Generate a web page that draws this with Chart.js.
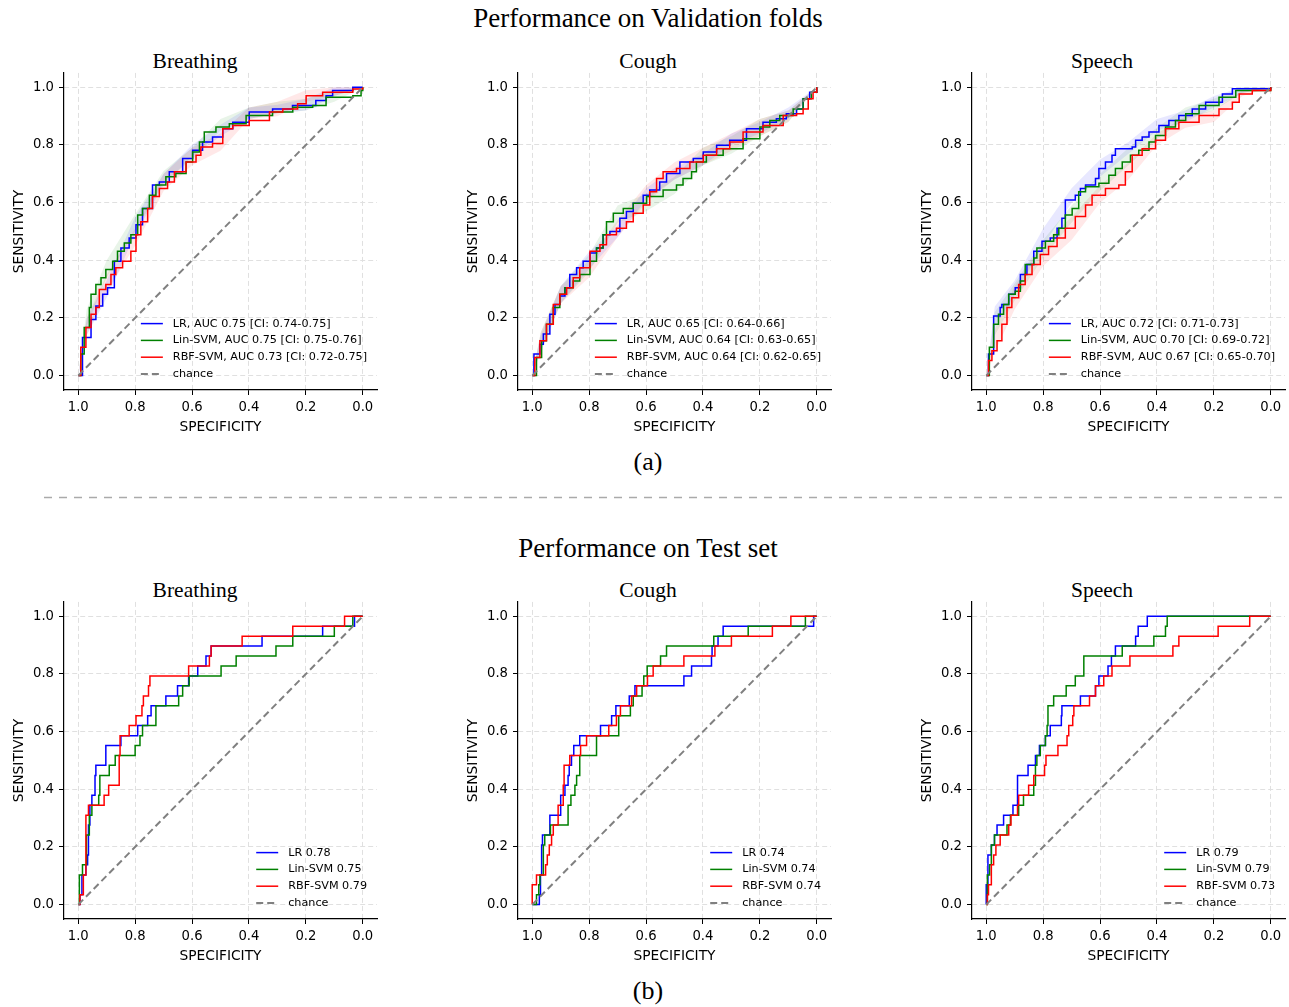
<!DOCTYPE html>
<html>
<head>
<meta charset="utf-8">
<script src="https://cdn.jsdelivr.net/npm/chart.js@4.4.1/dist/chart.umd.min.js"></script>
<style>
  body { margin: 0; background: #fff; width: 1289px; height: 1007px; position: relative; overflow: hidden; }
  .t { position: absolute; font-family: "Liberation Serif", "Times New Roman", serif; color: #000;
       white-space: nowrap; transform: translate(-50%, -50%); }
  canvas { position: absolute; }
  #sep { position: absolute; left: 0; top: 0; }
</style>
</head>
<body>

<div class="t" style="left:648px;top:18px;font-size:27px">Performance on Validation folds</div>
<div class="t" style="left:195px;top:61px;font-size:21.5px">Breathing</div>
<div class="t" style="left:648px;top:61px;font-size:21.5px">Cough</div>
<div class="t" style="left:1102px;top:61px;font-size:21.5px">Speech</div>
<div class="t" style="left:648px;top:462px;font-size:26px">(a)</div>

<svg id="sep" width="1289" height="1007"><line x1="44" y1="497.5" x2="1289" y2="497.5" stroke="#aaaaaa" stroke-width="1.3" stroke-dasharray="8 7"/></svg>

<div class="t" style="left:648px;top:548px;font-size:27px">Performance on Test set</div>
<div class="t" style="left:195px;top:590px;font-size:21.5px">Breathing</div>
<div class="t" style="left:648px;top:590px;font-size:21.5px">Cough</div>
<div class="t" style="left:1102px;top:590px;font-size:21.5px">Speech</div>
<div class="t" style="left:648px;top:991px;font-size:26px">(b)</div>

<canvas id="vBreath" width="381" height="380" style="left:0px;top:60px"></canvas>
<canvas id="vCough" width="381" height="380" style="left:454px;top:60px"></canvas>
<canvas id="vSpeech" width="381" height="380" style="left:908px;top:60px"></canvas>
<canvas id="tBreath" width="381" height="380" style="left:0px;top:589px"></canvas>
<canvas id="tCough" width="381" height="380" style="left:454px;top:589px"></canvas>
<canvas id="tSpeech" width="381" height="380" style="left:908px;top:589px"></canvas>

<script>
// ticks shared by both axes
const tickValues = [0, 0.2, 0.4, 0.6, 0.8, 1.0];

// chance diagonal
const chanceX = [1, 0];
const chanceY = [0, 1];

// validation folds: [specificity, sensitivity]
const valBreathLR = [[1,0],[0.985,0.132],[0.955,0.195],[0.938,0.241],[0.914,0.282],[0.897,0.305],[0.873,0.397],[0.850,0.443],[0.821,0.477],[0.797,0.523],[0.774,0.580],[0.739,0.661],[0.715,0.672],[0.680,0.707],[0.633,0.753],[0.598,0.782],[0.563,0.810],[0.528,0.828],[0.492,0.856],[0.457,0.879],[0.399,0.914],[0.317,0.925],[0.247,0.937],[0.165,0.954],[0.129,0.971],[0.106,0.989],[0.035,1.0],[0,1.0]];
const valBreathLin = [[1,0],[0.991,0.075],[0.979,0.167],[0.961,0.236],[0.955,0.282],[0.938,0.316],[0.920,0.339],[0.903,0.368],[0.879,0.397],[0.862,0.431],[0.838,0.460],[0.815,0.489],[0.791,0.557],[0.774,0.580],[0.750,0.626],[0.727,0.661],[0.692,0.690],[0.657,0.701],[0.621,0.741],[0.598,0.776],[0.574,0.810],[0.557,0.845],[0.516,0.862],[0.469,0.874],[0.410,0.902],[0.317,0.914],[0.246,0.931],[0.176,0.937],[0.129,0.966],[0.035,0.971],[0.006,0.989],[0,1.0]];
const valBreathRBF = [[1,0],[0.991,0.098],[0.973,0.167],[0.955,0.213],[0.938,0.236],[0.926,0.299],[0.903,0.316],[0.885,0.351],[0.868,0.374],[0.844,0.397],[0.815,0.431],[0.797,0.489],[0.780,0.534],[0.756,0.580],[0.739,0.621],[0.715,0.649],[0.686,0.672],[0.662,0.707],[0.621,0.741],[0.586,0.764],[0.569,0.793],[0.528,0.805],[0.492,0.856],[0.457,0.868],[0.399,0.885],[0.328,0.914],[0.281,0.925],[0.229,0.943],[0.199,0.971],[0.141,0.983],[0.035,0.994],[0,1.0]];

const valCoughLR = [[1,0],[0.994,0.075],[0.973,0.109],[0.961,0.144],[0.938,0.213],[0.920,0.247],[0.903,0.276],[0.885,0.305],[0.868,0.351],[0.844,0.374],[0.821,0.397],[0.797,0.425],[0.774,0.443],[0.751,0.489],[0.727,0.500],[0.692,0.546],[0.669,0.569],[0.645,0.598],[0.610,0.626],[0.587,0.644],[0.552,0.672],[0.528,0.701],[0.481,0.741],[0.434,0.753],[0.399,0.776],[0.352,0.799],[0.306,0.816],[0.247,0.856],[0.189,0.879],[0.142,0.891],[0.107,0.908],[0.071,0.925],[0.048,0.960],[0.025,0.983],[0,1.0]];
const valCoughLin = [[1,0],[0.985,0.063],[0.967,0.121],[0.950,0.178],[0.926,0.236],[0.903,0.282],[0.885,0.305],[0.856,0.328],[0.833,0.351],[0.797,0.397],[0.774,0.443],[0.751,0.489],[0.739,0.534],[0.715,0.563],[0.680,0.580],[0.645,0.598],[0.598,0.621],[0.540,0.644],[0.493,0.661],[0.470,0.684],[0.440,0.707],[0.423,0.741],[0.388,0.764],[0.329,0.787],[0.259,0.822],[0.200,0.862],[0.165,0.885],[0.130,0.902],[0.083,0.925],[0.048,0.960],[0.019,0.983],[0,1.0]];
const valCoughRBF = [[1,0],[0.991,0.063],[0.973,0.121],[0.950,0.178],[0.926,0.247],[0.903,0.282],[0.879,0.305],[0.856,0.339],[0.833,0.374],[0.797,0.431],[0.762,0.454],[0.739,0.489],[0.704,0.511],[0.669,0.534],[0.645,0.563],[0.610,0.592],[0.587,0.638],[0.563,0.684],[0.540,0.707],[0.493,0.718],[0.446,0.741],[0.399,0.764],[0.352,0.787],[0.306,0.810],[0.259,0.845],[0.189,0.868],[0.118,0.902],[0.071,0.908],[0.048,0.925],[0.030,0.960],[0.013,0.983],[0,1.0]];

const valSpeechLR = [[1,0],[0.992,0.075],[0.974,0.207],[0.951,0.236],[0.945,0.247],[0.921,0.282],[0.898,0.305],[0.880,0.351],[0.857,0.385],[0.833,0.431],[0.804,0.466],[0.775,0.477],[0.751,0.511],[0.734,0.546],[0.722,0.609],[0.687,0.626],[0.669,0.649],[0.651,0.661],[0.616,0.684],[0.604,0.718],[0.581,0.741],[0.558,0.764],[0.546,0.787],[0.487,0.793],[0.475,0.816],[0.452,0.828],[0.428,0.845],[0.393,0.868],[0.358,0.885],[0.323,0.902],[0.276,0.925],[0.229,0.948],[0.170,0.977],[0.135,0.995],[0,1.0]];
const valSpeechLin = [[1,0],[0.989,0.098],[0.974,0.178],[0.957,0.213],[0.939,0.247],[0.921,0.282],[0.898,0.293],[0.880,0.328],[0.863,0.385],[0.833,0.408],[0.822,0.443],[0.792,0.466],[0.763,0.489],[0.745,0.511],[0.722,0.557],[0.698,0.580],[0.675,0.638],[0.651,0.655],[0.604,0.667],[0.569,0.695],[0.546,0.718],[0.522,0.741],[0.493,0.764],[0.464,0.782],[0.428,0.810],[0.405,0.833],[0.370,0.862],[0.335,0.885],[0.299,0.908],[0.252,0.937],[0.182,0.966],[0.123,0.989],[0,1.0]];
const valSpeechRBF = [[1,0],[0.992,0.052],[0.980,0.086],[0.962,0.121],[0.945,0.178],[0.927,0.236],[0.910,0.270],[0.886,0.316],[0.863,0.351],[0.839,0.385],[0.810,0.420],[0.781,0.448],[0.751,0.477],[0.722,0.511],[0.687,0.552],[0.651,0.592],[0.628,0.626],[0.581,0.649],[0.534,0.661],[0.511,0.707],[0.487,0.764],[0.452,0.787],[0.405,0.816],[0.370,0.856],[0.323,0.879],[0.252,0.902],[0.182,0.925],[0.135,0.948],[0.111,0.977],[0.065,0.989],[0,1.0]];

// confidence bands of the validation curves, sampled at bandSpec
const bandSpec = [1, 0.97, 0.9, 0.8, 0.7, 0.6, 0.5, 0.4, 0.3, 0.2, 0.1, 0];
const valBreathLRLo  = [0,0.14,0.27,0.49,0.66,0.76,0.83,0.89,0.91,0.92,0.97,1];
const valBreathLRHi  = [0,0.20,0.33,0.55,0.70,0.80,0.87,0.93,0.94,0.96,1,1];
const valBreathLinLo = [0,0.17,0.34,0.50,0.67,0.75,0.85,0.89,0.91,0.92,0.95,1];
const valBreathLinHi = [0,0.23,0.40,0.56,0.71,0.79,0.89,0.93,0.95,0.96,0.99,1];
const valBreathRBFLo = [0,0.14,0.29,0.45,0.64,0.73,0.78,0.89,0.90,0.95,0.97,1];
const valBreathRBFHi = [0,0.20,0.35,0.51,0.70,0.79,0.84,0.93,0.95,0.99,1,1];
const valCoughLRLo   = [0,0.08,0.25,0.37,0.48,0.61,0.68,0.73,0.80,0.84,0.89,1];
const valCoughLRHi   = [0,0.14,0.31,0.43,0.52,0.65,0.72,0.77,0.84,0.88,0.93,1];
const valCoughLinLo  = [0,0.09,0.25,0.36,0.53,0.57,0.63,0.73,0.77,0.83,0.88,1];
const valCoughLinHi  = [0,0.15,0.31,0.42,0.59,0.63,0.69,0.79,0.83,0.89,0.92,1];
const valCoughRBFLo  = [0,0.09,0.25,0.34,0.48,0.60,0.68,0.73,0.78,0.83,0.88,1];
const valCoughRBFHi  = [0,0.15,0.31,0.40,0.54,0.66,0.74,0.79,0.84,0.89,0.92,1];
const valSpeechLRLo  = [0,0.17,0.28,0.45,0.60,0.69,0.77,0.85,0.88,0.93,0.98,1];
const valSpeechLRHi  = [0,0.24,0.33,0.51,0.65,0.75,0.81,0.89,0.92,0.97,1,1];
const valSpeechLinLo = [0,0.14,0.26,0.41,0.53,0.64,0.73,0.82,0.89,0.92,0.98,1];
const valSpeechLinHi = [0,0.22,0.32,0.47,0.59,0.70,0.79,0.86,0.93,0.96,1,1];
const valSpeechRBFLo = [0,0.08,0.23,0.38,0.47,0.60,0.68,0.80,0.86,0.88,0.97,1];
const valSpeechRBFHi = [0,0.16,0.31,0.46,0.55,0.66,0.74,0.84,0.90,0.92,0.99,1];

// test set: [specificity, sensitivity]
const testBreathLR = [[1,0],[0.994,0.034],[0.987,0.103],[0.973,0.138],[0.967,0.172],[0.964,0.276],[0.959,0.345],[0.952,0.379],[0.941,0.448],[0.938,0.483],[0.903,0.552],[0.850,0.586],[0.791,0.621],[0.756,0.655],[0.744,0.690],[0.692,0.724],[0.651,0.759],[0.612,0.793],[0.580,0.828],[0.551,0.862],[0.533,0.897],[0.354,0.931],[0.141,0.966],[0.029,1.0],[0,1.0]];
const testBreathLin = [[1,0],[0.996,0.103],[0.985,0.138],[0.971,0.241],[0.961,0.310],[0.952,0.345],[0.928,0.379],[0.924,0.448],[0.891,0.483],[0.870,0.517],[0.800,0.552],[0.783,0.586],[0.774,0.621],[0.727,0.690],[0.647,0.724],[0.633,0.759],[0.610,0.793],[0.498,0.828],[0.445,0.862],[0.305,0.897],[0.246,0.931],[0.100,0.966],[0.035,1.0],[0,1.0]];
const testBreathRBF = [[1,0],[0.994,0.034],[0.982,0.103],[0.973,0.310],[0.964,0.345],[0.909,0.379],[0.893,0.414],[0.856,0.517],[0.853,0.586],[0.821,0.621],[0.797,0.655],[0.776,0.690],[0.771,0.724],[0.753,0.759],[0.748,0.793],[0.612,0.828],[0.539,0.862],[0.533,0.897],[0.424,0.931],[0.246,0.966],[0.064,1.0],[0,1.0]];

const testCoughLR = [[1,0],[0.975,0.034],[0.971,0.103],[0.967,0.207],[0.964,0.241],[0.938,0.310],[0.900,0.379],[0.885,0.414],[0.874,0.448],[0.870,0.483],[0.862,0.517],[0.854,0.552],[0.833,0.586],[0.760,0.621],[0.721,0.655],[0.706,0.690],[0.659,0.724],[0.639,0.759],[0.467,0.793],[0.440,0.828],[0.370,0.862],[0.368,0.897],[0.347,0.931],[0.329,0.966],[0.011,1.0],[0,1.0]];
const testCoughLin = [[1,0],[0.985,0.034],[0.977,0.069],[0.973,0.103],[0.961,0.207],[0.956,0.241],[0.936,0.276],[0.874,0.345],[0.864,0.379],[0.850,0.414],[0.844,0.448],[0.833,0.517],[0.774,0.586],[0.696,0.655],[0.655,0.690],[0.645,0.724],[0.614,0.759],[0.608,0.793],[0.596,0.828],[0.549,0.862],[0.528,0.897],[0.362,0.931],[0.241,0.966],[0.040,1.0],[0,1.0]];
const testCoughRBF = [[1,0],[1.0,0.069],[0.985,0.103],[0.953,0.138],[0.947,0.172],[0.940,0.207],[0.932,0.241],[0.926,0.276],[0.909,0.345],[0.891,0.414],[0.888,0.483],[0.868,0.517],[0.830,0.552],[0.809,0.586],[0.731,0.621],[0.704,0.655],[0.690,0.690],[0.651,0.724],[0.633,0.759],[0.595,0.793],[0.575,0.828],[0.467,0.862],[0.358,0.897],[0.300,0.931],[0.156,0.966],[0.091,1.0],[0,1.0]];

const testSpeechLR = [[1,0],[1.0,0.069],[0.994,0.172],[0.982,0.207],[0.971,0.241],[0.962,0.276],[0.939,0.310],[0.906,0.345],[0.890,0.448],[0.853,0.483],[0.827,0.517],[0.813,0.552],[0.792,0.586],[0.775,0.621],[0.736,0.655],[0.734,0.690],[0.669,0.724],[0.616,0.759],[0.604,0.793],[0.572,0.828],[0.560,0.862],[0.546,0.897],[0.475,0.931],[0.466,0.966],[0.434,1.0],[0,1.0]];
const testSpeechLin = [[1,0],[0.996,0.103],[0.988,0.138],[0.982,0.207],[0.971,0.241],[0.927,0.276],[0.915,0.310],[0.886,0.345],[0.869,0.379],[0.833,0.414],[0.827,0.483],[0.822,0.517],[0.810,0.552],[0.792,0.586],[0.786,0.621],[0.783,0.690],[0.763,0.724],[0.719,0.759],[0.687,0.793],[0.657,0.862],[0.522,0.897],[0.411,0.931],[0.370,0.966],[0.364,1.0],[0,1.0]];
const testSpeechRBF = [[1,0],[0.996,0.034],[0.992,0.069],[0.982,0.138],[0.974,0.172],[0.966,0.207],[0.951,0.241],[0.921,0.276],[0.913,0.310],[0.890,0.345],[0.886,0.379],[0.851,0.414],[0.833,0.448],[0.795,0.483],[0.790,0.517],[0.748,0.552],[0.716,0.586],[0.710,0.621],[0.696,0.655],[0.692,0.690],[0.637,0.724],[0.616,0.759],[0.587,0.793],[0.558,0.828],[0.495,0.862],[0.344,0.897],[0.323,0.931],[0.185,0.966],[0.074,1.0],[0,1.0]];

// legend texts
const valBreathLabels  = ['LR, AUC 0.75 [CI: 0.74-0.75]', 'Lin-SVM, AUC 0.75 [CI: 0.75-0.76]', 'RBF-SVM, AUC 0.73 [CI: 0.72-0.75]'];
const valCoughLabels   = ['LR, AUC 0.65 [CI: 0.64-0.66]', 'Lin-SVM, AUC 0.64 [CI: 0.63-0.65]', 'RBF-SVM, AUC 0.64 [CI: 0.62-0.65]'];
const valSpeechLabels  = ['LR, AUC 0.72 [CI: 0.71-0.73]', 'Lin-SVM, AUC 0.70 [CI: 0.69-0.72]', 'RBF-SVM, AUC 0.67 [CI: 0.65-0.70]'];
const testBreathLabels = ['LR 0.78', 'Lin-SVM 0.75', 'RBF-SVM 0.79'];
const testCoughLabels  = ['LR 0.74', 'Lin-SVM 0.74', 'RBF-SVM 0.74'];
const testSpeechLabels = ['LR 0.79', 'Lin-SVM 0.79', 'RBF-SVM 0.73'];

// styles
const lineColors = ['#0000ff', '#008000', '#ff0000'];
const bandColors = ['rgba(0,0,255,0.09)', 'rgba(0,128,0,0.09)', 'rgba(255,0,0,0.09)'];

Chart.defaults.font.family = 'DejaVu Sans';

function pts(arr) {
  return arr.map(p => ({x: p[0], y: p[1]}));
}
function bandPts(vals) {
  return bandSpec.map((s, i) => ({x: s, y: vals[i]}));
}

// legend drawn in the lower right corner of the plot area
const cornerLegend = {
  id: 'cornerLegend',
  afterDraw(chart) {
    const ctx = chart.ctx;
    const area = chart.chartArea;
    const items = chart.data.datasets.filter(d => d.legendRow !== undefined)
      .sort((a, b) => a.legendRow - b.legendRow);
    ctx.save();
    ctx.font = '11.2px "DejaVu Sans"';
    const w = Math.max(...items.map(d => ctx.measureText(d.label).width));
    const textX = area.right - 10 - w;
    items.forEach((d, i) => {
      const y = area.bottom - 16 - (items.length - 1 - i) * 16.8;
      ctx.strokeStyle = d.borderColor;
      ctx.lineWidth = d.borderWidth;
      ctx.setLineDash(d.borderDash || []);
      ctx.beginPath();
      ctx.moveTo(textX - 32, y);
      ctx.lineTo(textX - 10, y);
      ctx.stroke();
      ctx.setLineDash([]);
      ctx.fillStyle = '#000';
      ctx.textBaseline = 'middle';
      ctx.fillText(d.label, textX, y);
    });
    ctx.restore();
  }
};

function axis(title, isX) {
  const a = {
    type: 'linear',
    min: -0.05,
    max: 1.05,
    afterBuildTicks: s => { s.ticks = tickValues.map(v => ({value: v})); },
    ticks: {
      callback: v => v.toFixed(1),
      font: {size: 13.2},
      color: '#000',
      padding: 5,
      maxRotation: 0,
      autoSkip: false
    },
    grid: {color: '#e0e0e0', lineWidth: 1, tickLength: 5, tickColor: '#000', tickWidth: 1},
    border: {color: '#000', width: 1.2, dash: [5, 3]},
    title: {
      display: true,
      text: title,
      font: {size: 13.8},
      color: '#000',
      padding: isX ? {top: 0, bottom: 4} : {top: 11, bottom: 0}
    }
  };
  if (isX) {
    a.reverse = true;
    a.afterFit = s => { s.height = 50; };
  } else {
    a.afterFit = s => { s.width = 64; };
  }
  return a;
}

function makePanel(id, curves, labels, bands) {
  const datasets = [];
  datasets.push({
    label: 'chance',
    data: chanceX.map((x, i) => ({x: x, y: chanceY[i]})),
    borderColor: '#808080', borderWidth: 2, borderDash: [7, 4],
    pointRadius: 0, fill: false, order: 0, legendRow: 3
  });
  curves.forEach((c, i) => {
    datasets.push({
      label: labels[i], data: pts(c),
      borderColor: lineColors[i], borderWidth: 1.5,
      stepped: true, pointRadius: 0, fill: false,
      order: 3 - i, legendRow: i
    });
  });
  if (bands) {
    bands.forEach((b, i) => {
      datasets.push({label: '', data: bandPts(b[0]), borderWidth: 0, borderColor: 'transparent',
        pointRadius: 0, fill: false, order: 10});
      datasets.push({label: '', data: bandPts(b[1]), borderWidth: 0, borderColor: 'transparent',
        pointRadius: 0, fill: '-1', backgroundColor: bandColors[i], order: 10});
    });
  }
  new Chart(document.getElementById(id), {
    type: 'line',
    data: {datasets: datasets},
    options: {
      responsive: false,
      animation: false,
      layout: {padding: {top: 11, right: 4, left: 0, bottom: 0}},
      plugins: {legend: {display: false}, tooltip: {enabled: false}},
      scales: {
        x: axis('SPECIFICITY', true),
        y: axis('SENSITIVITY', false)
      }
    },
    plugins: [cornerLegend]
  });
}

makePanel('vBreath', [valBreathLR, valBreathLin, valBreathRBF], valBreathLabels,
  [[valBreathLRLo, valBreathLRHi], [valBreathLinLo, valBreathLinHi], [valBreathRBFLo, valBreathRBFHi]]);
makePanel('vCough', [valCoughLR, valCoughLin, valCoughRBF], valCoughLabels,
  [[valCoughLRLo, valCoughLRHi], [valCoughLinLo, valCoughLinHi], [valCoughRBFLo, valCoughRBFHi]]);
makePanel('vSpeech', [valSpeechLR, valSpeechLin, valSpeechRBF], valSpeechLabels,
  [[valSpeechLRLo, valSpeechLRHi], [valSpeechLinLo, valSpeechLinHi], [valSpeechRBFLo, valSpeechRBFHi]]);
makePanel('tBreath', [testBreathLR, testBreathLin, testBreathRBF], testBreathLabels, null);
makePanel('tCough', [testCoughLR, testCoughLin, testCoughRBF], testCoughLabels, null);
makePanel('tSpeech', [testSpeechLR, testSpeechLin, testSpeechRBF], testSpeechLabels, null);
</script>
</body>
</html>
